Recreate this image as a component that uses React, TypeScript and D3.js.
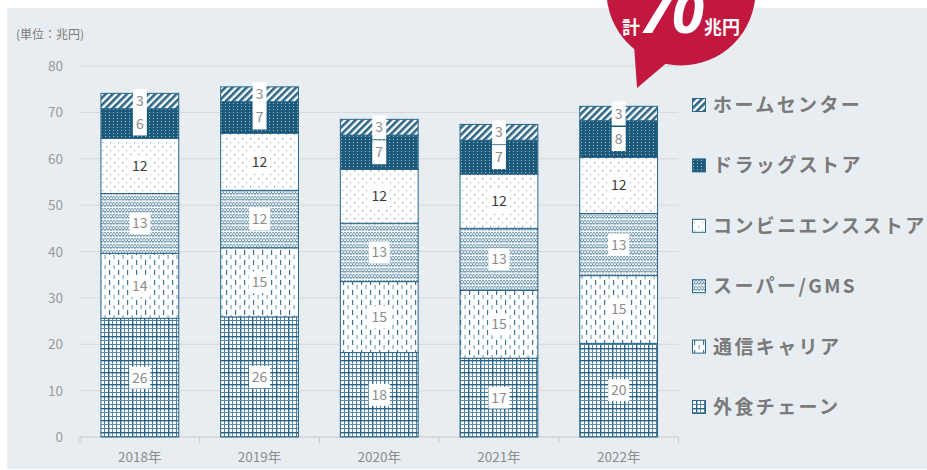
import React from "react";
import * as d3 from "d3";

const years = ["2018年", "2019年", "2020年", "2021年", "2022年"];
const seriesNames = ["外食チェーン", "通信キャリア", "スーパー/GMS", "コンビニエンスストア", "ドラッグストア", "ホームセンター"];
const gaishoku = [25.6, 25.9, 18.2, 17.0, 20.2];
const tsushin = [14.0, 14.9, 15.3, 14.6, 14.6];
const super_ = [12.9, 12.4, 12.6, 13.4, 13.4];
const conveni = [11.9, 12.3, 11.6, 11.7, 12.1];
const drug = [6.4, 6.8, 7.4, 7.3, 7.9];
const home = [3.3, 3.2, 3.4, 3.4, 3.1];
const yTicks = [0, 10, 20, 30, 40, 50, 60, 70, 80];
const unitLabel = "(単位：兆円)";
const badgeTotal = "70";

const W = 927;
const H = 470;
const TEAL = "#2b6688";
const patIds = ["p-gaishoku", "p-tsushin", "p-super", "p-conveni", "p-drug", "p-home"];

export default function App() {
  const seriesVals = [gaishoku, tsushin, super_, conveni, drug, home];
  const rows = years.map((y, i) => {
    const r: any = { year: y };
    seriesNames.forEach((s, k) => (r[s] = seriesVals[k][i]));
    return r;
  });
  const stack = d3.stack<any>().keys(seriesNames)(rows);

  const x = d3.scaleBand().domain(years).range([80, 678.5]).paddingInner(0.35).paddingOuter(0.175);
  const y = d3.scaleLinear().domain([0, 80]).range([437, 66]);
  const bw = x.bandwidth();
  const font = "'Noto Sans CJK JP', 'Noto Sans', sans-serif";
  const legendY = (k: number) => 105 + (5 - k) * 60.4;

  return (
    <svg width={W} height={H} style={{ position: "absolute", left: 0, top: 0, display: "block" }} fontFamily={font}>
      <defs>
        <pattern id="p-home" width={5} height={5} patternUnits="userSpaceOnUse" patternTransform="rotate(45)">
          <rect width={5} height={5} fill="#fff" />
          <rect width={2.6} height={5} fill={TEAL} />
        </pattern>
        <pattern id="p-drug" width={4} height={3} patternUnits="userSpaceOnUse">
          <rect width={4} height={3} fill="#1c5a7c" />
          <rect x={1} y={1} width={1} height={1} fill="#9dbbcc" />
        </pattern>
        <pattern id="p-conveni" width={8} height={8} patternUnits="userSpaceOnUse">
          <rect width={8} height={8} fill="#fff" />
          <rect x={2} y={2} width={1.2} height={1.2} fill="#6b95ae" />
          <rect x={6} y={6} width={1.2} height={1.2} fill="#9ab6c7" />
        </pattern>
        <pattern id="p-super" width={6} height={6} patternUnits="userSpaceOnUse">
          <rect width={6} height={6} fill="#eef3f6" />
          <path d="M0,2.5 L1.5,0.5 L3,2.5 L4.5,0.5 L6,2.5" fill="none" stroke="#4d7f9e" strokeWidth={1} />
          <path d="M0,4 L1.5,6 L3,4 L4.5,6 L6,4" fill="none" stroke="#7fa2b8" strokeWidth={1} />
        </pattern>
        <pattern id="p-tsushin" width={9} height={10} patternUnits="userSpaceOnUse">
          <rect width={9} height={10} fill="#fff" />
          <rect x={1} y={0} width={1.2} height={5} fill="#3e7596" />
          <rect x={5.5} y={5} width={1.2} height={4} fill="#7ea3b9" />
        </pattern>
        <pattern id="p-gaishoku" width={12} height={12} patternUnits="userSpaceOnUse">
          <rect width={12} height={12} fill="#fff" />
          <rect x={0} y={0} width={1.4} height={12} fill="#2a6384" />
          <rect x={4} y={0} width={1} height={12} fill="#5f8eab" />
          <rect x={8} y={0} width={1} height={12} fill="#4a7e9e" />
          <rect x={0} y={0} width={12} height={1.4} fill="#2a6384" />
          <rect x={0} y={4} width={12} height={1} fill="#5f8eab" />
          <rect x={0} y={8} width={12} height={1} fill="#4a7e9e" />
        </pattern>
      </defs>

      <rect x={0} y={0} width={W} height={H} fill="#fff" />
      <rect x={7} y={8} width={W - 7} height={461} fill="#e8edf1" />

      <text x={16} y={39} fontSize={12} fill="#7a7a7a">{unitLabel}</text>

      {yTicks.map((t) => (
        <g key={t}>
          <line x1={80} x2={678.5} y1={y(t)} y2={y(t)} stroke={t === 0 ? "#c4c9ce" : "#d3d8dd"} strokeWidth={1} />
          <text x={63} y={y(t) + 5} textAnchor="end" fontSize={13.5} fill="#9a9a9a">{t}</text>
        </g>
      ))}
      {[...years.map((yr) => (x(yr) as number) - (x.step() - bw) / 2), 678.5].map((tx, i) => (
        <line key={i} x1={tx} x2={tx} y1={437} y2={443} stroke="#c4c9ce" />
      ))}
      {years.map((yr) => (
        <text key={yr} x={(x(yr) as number) + bw / 2} y={462} textAnchor="middle" fontSize={13.5} fill="#8c8c8c">{yr}</text>
      ))}

      {stack.map((layer, k) => (
        <g key={layer.key}>
          {layer.map((d, i) => (
            <rect key={i} x={x(years[i])} y={y(d[1])} width={bw} height={y(d[0]) - y(d[1])}
              fill={`url(#${patIds[k]})`} stroke={TEAL} strokeWidth={1} />
          ))}
        </g>
      ))}

      {stack.map((layer, k) => (
        <g key={"l" + layer.key}>
          {layer.map((d, i) => {
            const v = Math.round(d[1] - d[0]);
            const cx = (x(years[i]) as number) + bw / 2;
            const cy = (y(d[0]) + y(d[1])) / 2;
            const bwid = v >= 10 ? 21 : 14;
            const bh = v >= 10 ? 22 : 24;
            return (
              <g key={i}>
                <rect x={cx - bwid / 2} y={cy - bh / 2} width={bwid} height={bh} fill="#fff" />
                <text x={cx} y={cy + 5} textAnchor="middle" fontSize={14} fill={k === 3 ? "#3a3a3a" : "#8c8c8c"}>{v}</text>
              </g>
            );
          })}
        </g>
      ))}

      {seriesNames.map((s, k) => (
        <g key={s}>
          <rect x={692.5} y={legendY(k) - 6.5} width={13} height={13} fill={`url(#${patIds[k]})`} stroke={TEAL} strokeWidth={1} />
          <text x={713} y={legendY(k) + 7} fontSize={19} fontWeight="bold" letterSpacing={2.4} fill="#7a7a7a">{s}</text>
        </g>
      ))}

      <g>
        <circle cx={681} cy={-9} r={74.5} fill="#c2173f" />
        <path d="M634,45 L637,88 L670,60 Z" fill="#c2173f" />
        <text x={631} y={34} textAnchor="middle" fontSize={18} fontWeight="bold" fill="#fff">計</text>
        <text x={672} y={33} textAnchor="middle" fontSize={58} fontWeight="bold" fontStyle="italic" fill="#fff" fontFamily="'Open Sans', 'Noto Sans', sans-serif">{badgeTotal}</text>
        <text x={722} y={34} textAnchor="middle" fontSize={18} fontWeight="bold" fill="#fff">兆円</text>
      </g>
    </svg>
  );
}
